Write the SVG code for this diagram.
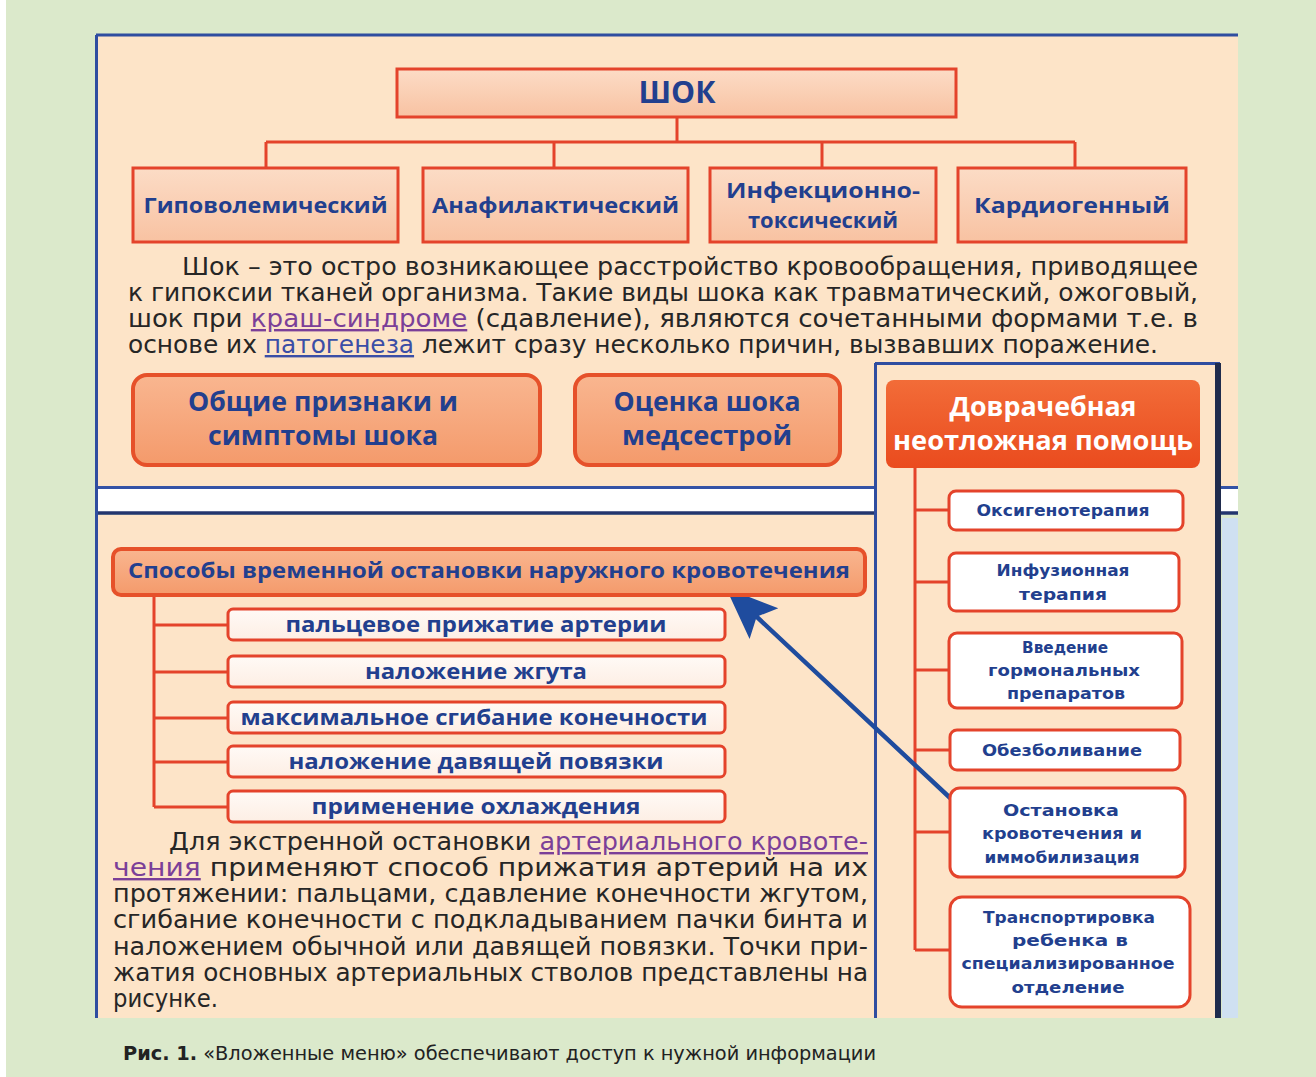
<svg xmlns="http://www.w3.org/2000/svg" width="1316" height="1077" viewBox="0 0 1316 1077">
<defs>
  <linearGradient id="gBox" x1="0" y1="0" x2="0" y2="1">
    <stop offset="0" stop-color="#fcdcc6"/><stop offset="1" stop-color="#f8c2a2"/>
  </linearGradient>
  <linearGradient id="gBtn" x1="0" y1="0" x2="0" y2="1">
    <stop offset="0" stop-color="#f9b690"/><stop offset="1" stop-color="#f49a6b"/>
  </linearGradient>
  <linearGradient id="gHead" x1="0" y1="0" x2="0" y2="1">
    <stop offset="0" stop-color="#f26c38"/><stop offset="1" stop-color="#ea4b1e"/>
  </linearGradient>
  <linearGradient id="gSub" x1="0" y1="0" x2="0" y2="1">
    <stop offset="0" stop-color="#fffaf6"/><stop offset="1" stop-color="#fdeee4"/>
  </linearGradient>
  <marker id="arrowhead" viewBox="0 0 54 44" markerUnits="userSpaceOnUse" markerWidth="54" markerHeight="44" refX="32" refY="22" orient="auto">
    <path d="M0,1 L52,22 L0,43 L10,22 Z" fill="#1f4c9e"/>
  </marker>
</defs>
<style>
  .lbl{font-family:"Open Sans","Noto Sans","DejaVu Sans",sans-serif;font-weight:700;fill:#223f8e;text-anchor:middle}
  .rl{font-family:"DejaVu Sans","Noto Sans",sans-serif;font-weight:700;font-size:15px;fill:#223f8e;text-anchor:middle}
  .para{font-family:"DejaVu Sans Condensed","Liberation Sans Narrow","DejaVu Sans",sans-serif;font-size:24px;fill:#262626}
  .lnk{fill:#7b3f98;text-decoration:underline}
  .lnk2{fill:#3b4ea6;text-decoration:underline}
  .wire{stroke:#e4432b;stroke-width:3;fill:none}
  .box{fill:url(#gBox);stroke:#e4432b;stroke-width:3}
  .btn{fill:url(#gBtn);stroke:#e6512a;stroke-width:4}
  .sub{fill:url(#gSub);stroke:#e4432b;stroke-width:3}
  .rbox{fill:#ffffff;stroke:#e4432b;stroke-width:3}
  .panel{fill:#fde4c8}
</style>

<!-- background -->
<rect x="0" y="0" width="1316" height="1077" fill="#dbe9cb"/>
<rect x="0" y="0" width="6" height="1077" fill="#ffffff"/>

<!-- upper panel -->
<rect class="panel" x="96" y="35" width="1142" height="452"/>
<line x1="96" y1="35" x2="1238" y2="35" stroke="#2f4da0" stroke-width="3"/>
<!-- white strip -->
<rect x="96" y="487" width="1142" height="25" fill="#ffffff"/>
<line x1="96" y1="487.5" x2="1238" y2="487.5" stroke="#3452a6" stroke-width="3"/>
<line x1="96" y1="513" x2="1238" y2="513" stroke="#23356e" stroke-width="3.5"/>
<!-- lower panel -->
<rect class="panel" x="96" y="515" width="780" height="503"/>
<rect x="1222" y="518" width="16" height="500" fill="#cfe0f1"/>
<line x1="96.5" y1="35" x2="96.5" y2="1018" stroke="#2f4da0" stroke-width="3"/>

<!-- right panel -->
<g id="panel-right">
  <rect class="panel" x="875" y="363" width="345" height="655"/>
  <line x1="875.5" y1="363" x2="875.5" y2="1018" stroke="#2f4da0" stroke-width="3"/>
  <line x1="875" y1="363.5" x2="1220" y2="363.5" stroke="#2f4da0" stroke-width="3"/>
  <line x1="1218" y1="363" x2="1218" y2="1018" stroke="#1f2b4d" stroke-width="6"/>
</g>

<!-- connectors -->
<g id="connectors">
  <path class="wire" d="M677,117 V142 M266,142 H1075 M266,142 V168 M554,142 V168 M822,142 V168 M1075,142 V168"/>
  <path class="wire" d="M154,595 V807 M154,625 H228 M154,672 H228 M154,718 H228 M154,762 H228 M154,807 H228"/>
  <path class="wire" d="M915,468 V950 M915,510 H949 M915,582 H949 M915,670 H949 M915,750 H950 M915,832 H950 M915,950 H950"/>
  <line x1="963" y1="810" x2="740.6" y2="601.7" stroke="#1f4c9e" stroke-width="4.5" stroke-linecap="round" marker-end="url(#arrowhead)"/>
</g>

<!-- top tree -->
<g id="node-shok">
  <rect class="box" x="397" y="69" width="559" height="48"/>
  <text class="lbl" x="677" y="103" font-size="30" textLength="77" lengthAdjust="spacingAndGlyphs">ШОК</text>
</g>
<g id="node-hypo">
  <rect class="box" x="133" y="168" width="265" height="74"/>
  <text class="lbl" x="265.5" y="213" font-size="22" textLength="244" lengthAdjust="spacingAndGlyphs">Гиповолемический</text>
</g>
<g id="node-anaph">
  <rect class="box" x="423" y="168" width="265" height="74"/>
  <text class="lbl" x="555.5" y="213" font-size="22" textLength="247" lengthAdjust="spacingAndGlyphs">Анафилактический</text>
</g>
<g id="node-infect">
  <rect class="box" x="710" y="168" width="226" height="74"/>
  <text class="lbl" x="823" y="198" font-size="22" textLength="194" lengthAdjust="spacingAndGlyphs">Инфекционно-</text>
  <text class="lbl" x="823" y="228" font-size="22" textLength="150" lengthAdjust="spacingAndGlyphs">токсический</text>
</g>
<g id="node-cardio">
  <rect class="box" x="958" y="168" width="228" height="74"/>
  <text class="lbl" x="1072" y="213" font-size="22" textLength="196" lengthAdjust="spacingAndGlyphs">Кардиогенный</text>
</g>

<!-- paragraph 1 -->
<g id="text-shok">
  <text class="para" x="182" y="275" textLength="1016" lengthAdjust="spacingAndGlyphs">Шок – это остро возникающее расстройство кровообращения, приводящее</text>
  <text class="para" x="128" y="301" textLength="1070" lengthAdjust="spacingAndGlyphs">к гипоксии тканей организма. Такие виды шока как травматический, ожоговый,</text>
  <text class="para" x="128" y="327" textLength="1070" lengthAdjust="spacingAndGlyphs">шок при <tspan class="lnk">краш-синдроме</tspan> (сдавление), являются сочетанными формами т.е. в</text>
  <text class="para" x="128" y="353" textLength="1030" lengthAdjust="spacingAndGlyphs">основе их <tspan class="lnk2">патогенеза</tspan> лежит сразу несколько причин, вызвавших поражение.</text>
</g>

<!-- buttons -->
<g id="node-signs">
  <rect class="btn" x="133" y="375" width="407" height="90" rx="14"/>
  <text class="lbl" x="323" y="411" font-size="26" textLength="270" lengthAdjust="spacingAndGlyphs">Общие признаки  и</text>
  <text class="lbl" x="323" y="445" font-size="26" textLength="230" lengthAdjust="spacingAndGlyphs">симптомы шока</text>
</g>
<g id="node-assess">
  <rect class="btn" x="575" y="375" width="265" height="90" rx="14"/>
  <text class="lbl" x="707" y="411" font-size="26" textLength="187" lengthAdjust="spacingAndGlyphs">Оценка шока</text>
  <text class="lbl" x="707" y="445" font-size="26" textLength="170" lengthAdjust="spacingAndGlyphs">медсестрой</text>
</g>

<!-- left tree -->
<g id="node-methods">
  <rect class="btn" x="113" y="549" width="752" height="46" rx="8" stroke-width="3.5"/>
  <text class="lbl" x="489" y="578" font-size="22" textLength="722" lengthAdjust="spacingAndGlyphs">Способы временной остановки наружного кровотечения</text>
</g>
<g id="node-m1">
  <rect class="sub" x="228" y="609" width="497" height="31" rx="5"/>
  <text class="lbl" x="476" y="632" font-size="21" textLength="381" lengthAdjust="spacingAndGlyphs">пальцевое прижатие артерии</text>
</g>
<g id="node-m2">
  <rect class="sub" x="228" y="656" width="497" height="31" rx="5"/>
  <text class="lbl" x="476" y="679" font-size="21" textLength="222" lengthAdjust="spacingAndGlyphs">наложение жгута</text>
</g>
<g id="node-m3">
  <rect class="sub" x="228" y="702" width="497" height="31" rx="5"/>
  <text class="lbl" x="474" y="725" font-size="21" textLength="467" lengthAdjust="spacingAndGlyphs">максимальное сгибание конечности</text>
</g>
<g id="node-m4">
  <rect class="sub" x="228" y="746" width="497" height="31" rx="5"/>
  <text class="lbl" x="476" y="769" font-size="21" textLength="375" lengthAdjust="spacingAndGlyphs">наложение давящей повязки</text>
</g>
<g id="node-m5">
  <rect class="sub" x="228" y="791" width="497" height="31" rx="5"/>
  <text class="lbl" x="476" y="814" font-size="21" textLength="329" lengthAdjust="spacingAndGlyphs">применение охлаждения</text>
</g>

<!-- paragraph 2 -->
<g id="text-arterial">
  <text class="para" x="169" y="850" textLength="699" lengthAdjust="spacingAndGlyphs">Для экстренной остановки <tspan class="lnk">артериального кровоте-</tspan></text>
  <text class="para" x="113" y="876" textLength="755" lengthAdjust="spacingAndGlyphs"><tspan class="lnk">чения</tspan> применяют способ прижатия артерий на их</text>
  <text class="para" x="113" y="902" textLength="755" lengthAdjust="spacingAndGlyphs">протяжении: пальцами, сдавление конечности жгутом,</text>
  <text class="para" x="113" y="928" textLength="755" lengthAdjust="spacingAndGlyphs">сгибание конечности с подкладыванием пачки бинта и</text>
  <text class="para" x="113" y="955" textLength="755" lengthAdjust="spacingAndGlyphs">наложением обычной или давящей повязки. Точки при-</text>
  <text class="para" x="113" y="981" textLength="755" lengthAdjust="spacingAndGlyphs">жатия основных артериальных стволов представлены на</text>
  <text class="para" x="113" y="1007" textLength="105" lengthAdjust="spacingAndGlyphs">рисунке.</text>
</g>

<!-- right panel content -->
<g id="node-firstaid">
  <rect x="886" y="380" width="314" height="88" rx="8" fill="url(#gHead)"/>
  <text class="lbl" x="1043" y="416" font-size="26" style="fill:#ffffff" textLength="187" lengthAdjust="spacingAndGlyphs">Доврачебная</text>
  <text class="lbl" x="1043" y="450" font-size="26" style="fill:#ffffff" textLength="300" lengthAdjust="spacingAndGlyphs">неотложная  помощь</text>
</g>
<g id="node-oxy">
  <rect class="rbox" x="949" y="491" width="234" height="39" rx="7"/>
  <text class="rl" x="1063" y="516" textLength="173" lengthAdjust="spacingAndGlyphs">Оксигенотерапия</text>
</g>
<g id="node-infusion">
  <rect class="rbox" x="949" y="553" width="230" height="58" rx="7"/>
  <text class="rl" x="1063" y="576" textLength="133" lengthAdjust="spacingAndGlyphs">Инфузионная</text>
  <text class="rl" x="1063" y="600" textLength="88" lengthAdjust="spacingAndGlyphs">терапия</text>
</g>
<g id="node-hormones">
  <rect class="rbox" x="949" y="633" width="233" height="75" rx="8"/>
  <text class="rl" x="1065" y="653" textLength="86" lengthAdjust="spacingAndGlyphs">Введение</text>
  <text class="rl" x="1064" y="676" textLength="152" lengthAdjust="spacingAndGlyphs">гормональных</text>
  <text class="rl" x="1066" y="699" textLength="118" lengthAdjust="spacingAndGlyphs">препаратов</text>
</g>
<g id="node-analgesia">
  <rect class="rbox" x="950" y="730" width="230" height="40" rx="7"/>
  <text class="rl" x="1062" y="756" textLength="160" lengthAdjust="spacingAndGlyphs">Обезболивание</text>
</g>
<g id="node-stop">
  <rect class="rbox" x="950" y="788" width="235" height="89" rx="10"/>
  <text class="rl" x="1061" y="816" textLength="116" lengthAdjust="spacingAndGlyphs">Остановка</text>
  <text class="rl" x="1062" y="839" textLength="160" lengthAdjust="spacingAndGlyphs">кровотечения и</text>
  <text class="rl" x="1062" y="863" textLength="155" lengthAdjust="spacingAndGlyphs">иммобилизация</text>
</g>
<g id="node-transport">
  <rect class="rbox" x="950" y="897" width="240" height="110" rx="12"/>
  <text class="rl" x="1069" y="923" textLength="172" lengthAdjust="spacingAndGlyphs">Транспортировка</text>
  <text class="rl" x="1070" y="946" textLength="116" lengthAdjust="spacingAndGlyphs">ребенка в</text>
  <text class="rl" x="1068" y="969" textLength="213" lengthAdjust="spacingAndGlyphs">специализированное</text>
  <text class="rl" x="1068" y="993" textLength="113" lengthAdjust="spacingAndGlyphs">отделение</text>
</g>

<!-- caption -->
<text x="123" y="1060" font-family="'DejaVu Sans Condensed','Liberation Sans Narrow','DejaVu Sans',sans-serif" font-size="20" fill="#222222" textLength="753" lengthAdjust="spacingAndGlyphs"><tspan font-weight="700">Рис. 1.</tspan> «Вложенные меню» обеспечивают доступ к нужной информации</text>
</svg>
